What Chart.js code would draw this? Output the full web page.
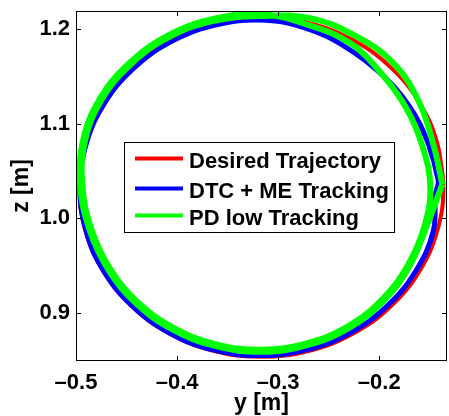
<!DOCTYPE html>
<html>
<head>
<meta charset="utf-8">
<script src="https://cdn.jsdelivr.net/npm/chart.js@4/dist/chart.umd.min.js"></script>
<style>
  html, body { margin: 0; padding: 0; background: #fff; }
</style>
</head>
<body>
<canvas id="chart" width="449" height="416"></canvas>
<script>
  // axis ticks
  const xTicks = [-0.5, -0.4, -0.3, -0.2];
  const yTicks = [0.9, 1.0, 1.1, 1.2];

  const seriesNames = ["Desired Trajectory", "DTC + ME Tracking", "PD low Tracking"];

  // desired trajectory (y, z)
  const desiredY = [-0.1366, -0.1427, -0.1607, -0.1893, -0.2266, -0.2700, -0.3166, -0.3632, -0.4066, -0.4439, -0.4725, -0.4905,
    -0.4966, -0.4905, -0.4725, -0.4439, -0.4066, -0.3632, -0.3166, -0.2700, -0.2266, -0.1893, -0.1607, -0.1427, -0.1366, -0.1427];
  const desiredZ = [1.0330, 1.0795, 1.1228, 1.1599, 1.1885, 1.2064, 1.2125, 1.2064, 1.1885, 1.1599, 1.1228, 1.0795,
    1.0330, 0.9865, 0.9432, 0.9061, 0.8775, 0.8596, 0.8535, 0.8596, 0.8775, 0.9061, 0.9432, 0.9865, 1.0330, 1.0795];

  // DTC + ME
  const dtcY = [-0.1416, -0.1509, -0.1698, -0.1980, -0.2325, -0.2730, -0.3183, -0.3643, -0.4072, -0.4439, -0.4722, -0.4900,
    -0.4960, -0.4900, -0.4722, -0.4439, -0.4072, -0.3643, -0.3183, -0.2723, -0.2294, -0.1927, -0.1644, -0.1466, -0.1445, -0.1416, -0.1509];
  const dtcZ = [1.0400, 1.0769, 1.1177, 1.1522, 1.1804, 1.2009, 1.2095, 1.2035, 1.1858, 1.1575, 1.1208, 1.0780,
    1.0321, 0.9862, 0.9434, 0.9067, 0.8784, 0.8607, 0.8547, 0.8607, 0.8784, 0.9067, 0.9434, 0.9862, 1.0250, 1.0400, 1.0769];

  // PD low: starts at the right, two laps, ends back at the start
  const pdY = [-0.1376,
    -0.1530, -0.1702, -0.1956, -0.2300, -0.2715, -0.3166, -0.3619, -0.4041, -0.4403, -0.4682, -0.4866, -0.4956,
    -0.4934, -0.4768, -0.4474, -0.4091, -0.3643, -0.3166,
    -0.2705, -0.2286, -0.1970, -0.1728, -0.1571, -0.1495,
    -0.1550, -0.1719, -0.1970, -0.2310, -0.2720, -0.3166, -0.3614, -0.4031, -0.4389, -0.4665, -0.4847, -0.4936,
    -0.4915, -0.4751, -0.4460, -0.4081, -0.3638, -0.3166,
    -0.2687, -0.2241, -0.1858, -0.1607, -0.1466, -0.1376];
  const pdZ = [1.0360,
    0.9920, 0.9491, 0.9128, 0.8840, 0.8657, 0.8588, 0.8647, 0.8821, 0.9098, 0.9459, 0.9876, 1.0330,
    1.0803, 1.1254, 1.1637, 1.1930, 1.2105, 1.2157,
    1.2044, 1.1848, 1.1517, 1.1154, 1.0754, 1.0330,
    0.9925, 0.9500, 0.9142, 0.8857, 0.8676, 0.8608, 0.8666, 0.8838, 0.9112, 0.9469, 0.9881, 1.0330,
    1.0798, 1.1244, 1.1623, 1.1913, 1.2086, 1.2137,
    1.2115, 1.1930, 1.1636, 1.1228, 1.0784, 1.0360];

  const FONT = "'Liberation Sans', Arial, Helvetica, sans-serif";

  function toPoints(ys, zs) {
    return ys.map((v, i) => ({ x: v, y: zs[i] }));
  }

  function fmtTick(v) {
    const s = Math.abs(v).toFixed(1);
    return v < 0 ? "\u2013" + s : s;
  }

  function noPad(s) {
    s.paddingTop = 0; s.paddingBottom = 0; s.paddingLeft = 0; s.paddingRight = 0;
  }

  // box round the axes + inward ticks on all four sides, MATLAB style
  const boxPlugin = {
    id: "box",
    afterDatasetsDraw(chart) {
      const { ctx, chartArea: a, scales } = chart;
      ctx.save();
      ctx.strokeStyle = "#000";
      ctx.lineWidth = 1;
      ctx.strokeRect(a.left + 0.5, a.top + 0.5, a.right - a.left - 1, a.bottom - a.top - 1);
      ctx.beginPath();
      xTicks.forEach((t) => {
        const px = Math.round(scales.x.getPixelForValue(t)) + 0.5;
        ctx.moveTo(px, a.bottom); ctx.lineTo(px, a.bottom - 5);
        ctx.moveTo(px, a.top); ctx.lineTo(px, a.top + 5);
      });
      yTicks.forEach((t) => {
        const py = Math.round(scales.y.getPixelForValue(t)) + 0.5;
        ctx.moveTo(a.left, py); ctx.lineTo(a.left + 5, py);
        ctx.moveTo(a.right, py); ctx.lineTo(a.right - 5, py);
      });
      ctx.stroke();
      ctx.restore();
    }
  };

  // legend box drawn inside the plot
  const legendPlugin = {
    id: "boxLegend",
    afterDraw(chart) {
      const { ctx, chartArea: a } = chart;
      const left = a.left + 48, top = 142, w = 270, h = 90;
      ctx.save();
      ctx.fillStyle = "#fff";
      ctx.fillRect(left, top, w, h);
      ctx.strokeStyle = "#000";
      ctx.lineWidth = 1;
      ctx.strokeRect(left + 0.5, top + 0.5, w, h);
      ctx.font = "bold 22px " + FONT;
      ctx.textBaseline = "alphabetic";
      ctx.fillStyle = "#000";
      const rows = [168, 198, 225];
      chart.data.datasets.forEach((ds, i) => {
        const y = rows[i];
        ctx.strokeStyle = ds.borderColor;
        ctx.lineWidth = 4;
        ctx.beginPath();
        ctx.moveTo(left + 11, y - 9.5);
        ctx.lineTo(left + 59, y - 9.5);
        ctx.stroke();
        ctx.fillText(ds.label, left + 65, y);
      });
      ctx.restore();
    }
  };

  new Chart(document.getElementById("chart"), {
    type: "scatter",
    data: {
      datasets: [
        { label: seriesNames[0], data: toPoints(desiredY, desiredZ), borderColor: "#ff0000", borderWidth: 4, order: 3 },
        { label: seriesNames[1], data: toPoints(dtcY, dtcZ), borderColor: "#0000ff", borderWidth: 5, order: 2 },
        { label: seriesNames[2], data: toPoints(pdY, pdZ), borderColor: "#00ff00", borderWidth: 6, order: 1 }
      ].map((d) => ({ ...d, showLine: true, pointRadius: 0, tension: 0.4, fill: false }))
    },
    options: {
      responsive: false,
      animation: false,
      devicePixelRatio: 1,
      layout: { padding: { top: 11, right: 2, left: 0, bottom: 0 } },
      plugins: { legend: { display: false }, tooltip: { enabled: false } },
      scales: {
        x: {
          type: "linear",
          min: -0.5,
          max: -0.133,
          grid: { display: false, drawTicks: false },
          border: { display: false },
          afterBuildTicks: (s) => { s.ticks = xTicks.map((v) => ({ value: v })); },
          afterFit: (s) => { s.height = 55; noPad(s); },
          ticks: {
            padding: 9,
            color: "#000",
            font: { family: FONT, size: 22, weight: "bold" },
            callback: (v) => fmtTick(v)
          },
          title: {
            display: true,
            text: "y [m]",
            color: "#000",
            font: { family: FONT, size: 23, weight: "bold" },
            padding: { top: 0, bottom: -1 }
          }
        },
        y: {
          type: "linear",
          min: 0.849,
          max: 1.219,
          grid: { display: false, drawTicks: false },
          border: { display: false },
          afterBuildTicks: (s) => { s.ticks = yTicks.map((v) => ({ value: v })); },
          afterFit: (s) => { s.width = 76; noPad(s); },
          ticks: {
            padding: 6,
            color: "#000",
            font: { family: FONT, size: 22, weight: "bold" },
            callback: (v) => fmtTick(v)
          },
          title: {
            display: true,
            text: "z [m]",
            color: "#000",
            font: { family: FONT, size: 23, weight: "bold" },
            padding: { top: 8, bottom: 0 }
          }
        }
      }
    },
    plugins: [boxPlugin, legendPlugin]
  });
</script>
</body>
</html>
